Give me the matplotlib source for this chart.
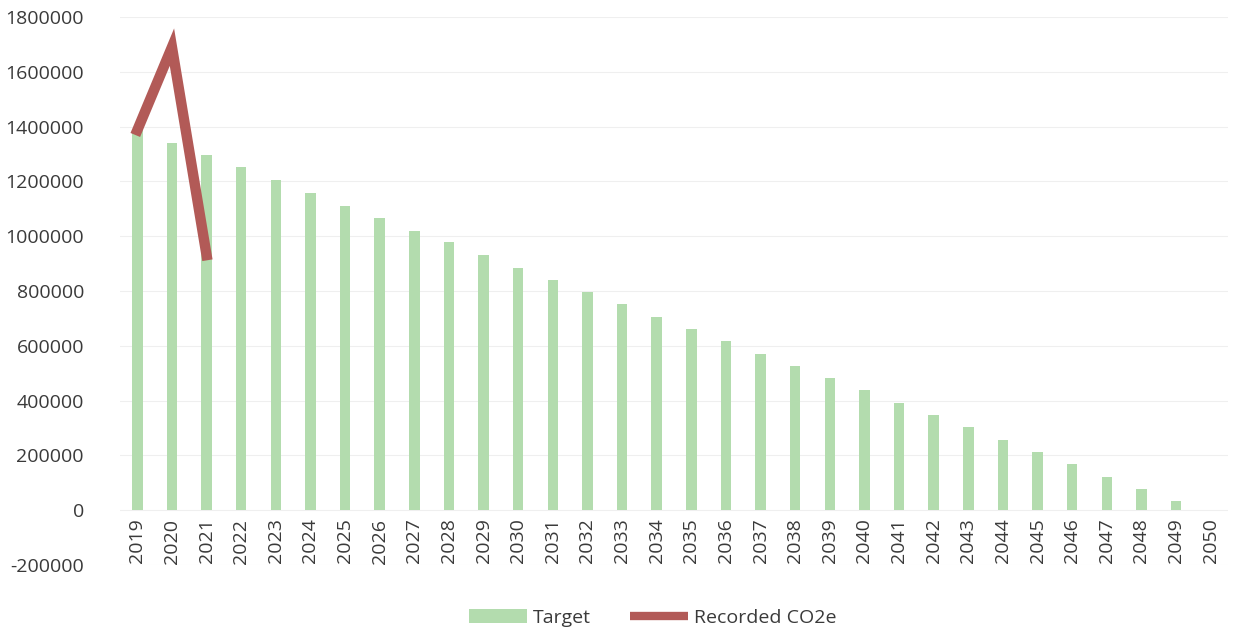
import os
os.environ.setdefault("MPLBACKEND", "Agg")
import numpy as np
import matplotlib.pyplot as plt
from matplotlib.patches import Patch
from matplotlib.lines import Line2D

years = list(range(2019, 2051))
target = [1387000, 1339000, 1296000, 1252000, 1204000, 1157000, 1109000, 1066000,
          1018000, 978000, 931000, 883000, 839000, 796000, 752000, 704000,
          661000, 617000, 569000, 526000, 482000, 438000, 391000, 347000,
          303000, 255000, 212000, 168000, 120000, 77000, 33000, 0]
recorded_years = [2019, 2020, 2021]
recorded = [1387000, 1690000, 931000]

yticks = list(range(-200000, 1800001, 200000))

GREEN = "#b3dcae"
RED = "#b25a57"
TXT = "#3a3a3a"

plt.rcParams["font.family"] = ["Open Sans", "DejaVu Sans"]

fig = plt.figure(figsize=(12.39, 6.32), dpi=100)
ax = fig.add_axes([120 / 1239, 67 / 632, 1108 / 1239, 548 / 632])

x = np.arange(len(years))
ax.bar(x, target, width=0.3, color=GREEN, zorder=2)
rx = [years.index(y) for y in recorded_years]
ax.plot(rx, recorded, color=RED, linewidth=7.5, solid_joinstyle="miter", zorder=3)

ax.set_xlim(-0.5, len(years) - 0.5)
ax.set_ylim(-200000, 1800000)
ax.set_yticks(yticks)
ax.set_yticklabels([str(v) for v in yticks], fontsize=14, color=TXT)
ax.tick_params(axis="y", length=0, pad=26)
ax.set_xticks([])
for s in ax.spines.values():
    s.set_visible(False)
for v in yticks:
    ax.axhline(v, color="#efefef", linewidth=0.8, zorder=1)

# category labels sit just under the zero line, like Excel does
for i, yr in enumerate(years):
    ax.annotate(str(yr), (i, 0), xytext=(0, -6), textcoords="offset points",
                rotation=90, ha="center", va="top", fontsize=14, color=TXT)

handles = [Patch(facecolor=GREEN, edgecolor="none"),
           Line2D([0], [0], color=RED, linewidth=6, solid_capstyle="butt")]
fig.legend(handles, ["Target", "Recorded CO2e"], loc="center",
           bbox_to_anchor=(0.527, 0.022), ncol=2, frameon=False, fontsize=14,
           handlelength=3.0, handletextpad=0.3, columnspacing=2.0,
           labelcolor=TXT)

fig.savefig("out.png", dpi=100, facecolor="white")
